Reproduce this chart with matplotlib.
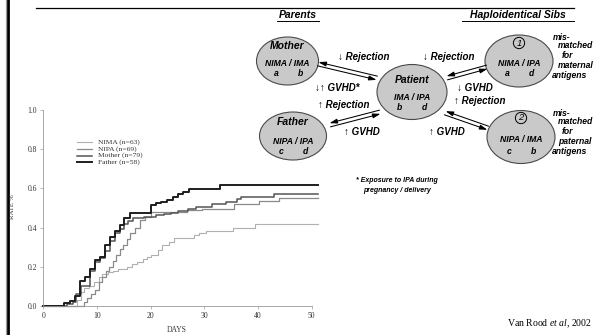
import matplotlib
matplotlib.use("Agg")
import matplotlib.pyplot as plt
from matplotlib.patches import Ellipse
import numpy as np

plt.rcParams['mathtext.fontset'] = 'custom'
plt.rcParams['mathtext.rm'] = 'Liberation Serif'
plt.rcParams['mathtext.it'] = 'Liberation Serif:italic'

# --- curve data (days, cumulative rate) ---
father_days = [0, 3.9, 5.0, 5.9, 6.9, 7.8, 8.7, 9.6, 10.6, 11.5, 12.5, 13.4, 14.3, 15.1,
               16.1, 20.1, 21.0, 22.0, 23.0, 24.2, 25.1, 26.1, 27.1, 33.0, 51.2]
father_rate = [0, 0.014, 0.025, 0.05, 0.13, 0.15, 0.19, 0.235, 0.25, 0.31, 0.35, 0.385, 0.415,
               0.45, 0.476, 0.515, 0.527, 0.533, 0.54, 0.556, 0.57, 0.58, 0.597, 0.615, 0.615]

mother_days = [0, 4.5, 5.5, 6.0, 7.0, 8.7, 9.6, 10.6, 11.5, 12.5, 13.4, 14.3, 15.0, 15.8,
               16.8, 18.7, 21.0, 22.5, 23.8, 25.0, 27.0, 28.5, 31.5, 34.0, 36.0, 36.8, 43.0, 51.2]
mother_rate = [0, 0.01, 0.02, 0.06, 0.10, 0.18, 0.225, 0.245, 0.28, 0.33, 0.37, 0.395, 0.42,
               0.435, 0.447, 0.455, 0.462, 0.47, 0.476, 0.485, 0.497, 0.505, 0.519, 0.533,
               0.546, 0.558, 0.57, 0.57]

nipa_days = [0, 7.5, 8.2, 8.9, 9.7, 10.3, 11.0, 11.6, 12.3, 13.0, 13.6, 14.2, 14.9, 15.5,
             16.2, 17.0, 18.0, 19.0, 20.0, 26.8, 29.5, 35.6, 40.2, 44.0, 51.2]
nipa_rate = [0, 0.02, 0.04, 0.06, 0.08, 0.12, 0.15, 0.18, 0.20, 0.23, 0.26, 0.29, 0.31, 0.34,
             0.37, 0.40, 0.44, 0.455, 0.48, 0.49, 0.497, 0.519, 0.536, 0.55, 0.55]

nima_days = [0, 6.2, 7.0, 7.6, 8.5, 9.5, 10.3, 11.0, 12.0, 13.0, 14.0, 15.5, 16.5, 17.5,
             18.5, 19.3, 20.1, 21.3, 22.2, 23.5, 24.4, 28.1, 29.0, 30.3, 35.3, 39.4, 51.2]
nima_rate = [0, 0.03, 0.07, 0.09, 0.10, 0.12, 0.15, 0.165, 0.175, 0.18, 0.19, 0.20, 0.215,
             0.225, 0.24, 0.25, 0.26, 0.286, 0.31, 0.325, 0.345, 0.36, 0.37, 0.383, 0.396,
             0.417, 0.417]

labels = ['NIMA (n=63)', 'NIPA (n=69)', 'Mother (n=79)', 'Father (n=58)']
x_ticks = [0, 10, 20, 30, 40, 50]
y_ticks = [0.0, 0.2, 0.4, 0.6, 0.8, 1.0]

W, H = 594, 335
fig = plt.figure(figsize=(W / 100, H / 100), dpi=100)

# chart axes placed in pixel terms
px_day = (311.7 - 43.3) / 50
ax = fig.add_axes([43.3 / W, (H - 306) / H, px_day * 51.5 / W, 196 / H])
ax.set_xlim(0, 51.5)
ax.set_ylim(0, 1.0)

series = [(nima_days, nima_rate, '#b0b0b0', 0.8),
          (nipa_days, nipa_rate, '#8a8a8a', 0.9),
          (mother_days, mother_rate, '#555555', 1.1),
          (father_days, father_rate, '#1e1e1e', 1.4)]
for (d, r, c, lw) in series:
    ax.step(d, r, where='post', color=c, lw=lw, clip_on=False)

for s in ['top', 'right']:
    ax.spines[s].set_visible(False)
ax.spines['bottom'].set_bounds(0, 50)
for s in ['left', 'bottom']:
    ax.spines[s].set_color('#999999')
    ax.spines[s].set_linewidth(0.6)
ax.set_xticks(x_ticks)
ax.set_yticks(y_ticks)
ax.set_xticklabels([str(t) for t in x_ticks])
ax.set_yticklabels(['%.1f' % t for t in y_ticks])
ax.tick_params(length=2, width=0.5, color='#999999', pad=2.5, labelsize=5.5, labelcolor='#333333')
for lab in ax.get_xticklabels() + ax.get_yticklabels():
    lab.set_family('Liberation Serif')
ax.patch.set_alpha(0)

# overlay in pixel coordinates
ov = fig.add_axes([0, 0, 1, 1])
ov.set_xlim(0, W)
ov.set_ylim(H, 0)
ov.axis('off')
ov.patch.set_alpha(0)

serif = 'Liberation Serif'
ov.text(12.5, 207, 'RATE %', rotation=90, ha='center', va='center', fontsize=5,
        family=serif, color='#333333')
ov.text(177, 334, 'DAYS', ha='center', va='bottom', fontsize=5.5, family=serif, color='#333333')

# legend
for i, (lab, (d, r, c, lw)) in enumerate(zip(labels, series)):
    y = 142 + i * 6.8
    ov.plot([77, 92], [y, y], color=c, lw=lw)
    ov.text(98, y, lab, va='center', ha='left', fontsize=5.4, family=serif, color='#333333')

# slide frame lines
ov.plot([8, 8], [0, H], color='black', lw=2.0)
ov.plot([5.8, 5.8], [0, H], color='#999999', lw=0.8)
ov.plot([36, 574], [7.5, 7.5], color='black', lw=0.9)

ov.text(592, 324, r'Van Rood $\it{et\ al}$, 2002', ha='right', va='center', fontsize=7,
        family=serif)

# diagram
sans = ['Liberation Sans', 'DejaVu Sans']
ell = [(287.5, 61, 62, 48), (293, 136, 67, 48), (412, 92, 70, 55),
       (519, 61, 68, 52), (521, 137, 68, 53)]
for (cx, cy, w, h) in ell:
    ov.add_patch(Ellipse((cx, cy), w, h, fc='#c9c9c9', ec='#4a4a4a', lw=0.8))

def bt(x, y, s, size=6.2, ha='center'):
    ov.text(x, y, s, ha=ha, va='center', fontsize=size, family=sans,
            fontweight='bold', fontstyle='italic')

bt(298, 15, 'Parents', 7.5)
ov.plot([277, 319], [21, 21], color='black', lw=0.7)
bt(518, 15, 'Haploidentical Sibs', 7.5)
ov.plot([462, 574], [21, 21], color='black', lw=0.7)

bt(287, 46, 'Mother', 7.5)
bt(287, 63, 'NIMA / IMA', 6.2)
bt(276, 73, 'a', 6.2); bt(300, 73, 'b', 6.2)
bt(293, 122, 'Father', 7.5)
bt(293, 141, 'NIPA / IPA', 6.2)
bt(281, 152, 'c', 6.2); bt(305, 152, 'd', 6.2)
bt(412, 80, 'Patient', 7.5)
bt(412, 97, 'IMA / IPA', 6.2)
bt(399, 107, 'b', 6.2); bt(424, 107, 'd', 6.2)
for (cx, cy, n) in [(519, 43, '1'), (521, 118, '2')]:
    ov.text(cx, cy, n, ha='center', va='center', fontsize=6.8, family=sans, fontstyle='italic',
            bbox=dict(boxstyle='circle,pad=0.12', fc='none', ec='black', lw=0.7))
bt(519, 63, 'NIMA / IPA', 6.2)
bt(507, 74, 'a', 6.2); bt(531, 74, 'd', 6.2)
bt(521, 140, 'NIPA / IMA', 6.2)
bt(509, 151, 'c', 6.2); bt(533, 151, 'b', 6.2)

for y0, word in [(37, 'maternal'), (113, 'paternal')]:
    bt(553, y0, 'mis-', 6.2, 'left')
    bt(558, y0 + 9, 'matched', 6.2, 'left')
    bt(562, y0 + 19, 'for', 6.2, 'left')
    bt(558, y0 + 29, word, 6.2, 'left')
    bt(552, y0 + 39, 'antigens', 6.2, 'left')

bt(338, 57, '\u2193 Rejection', 7, 'left')
bt(423, 57, '\u2193 Rejection', 7, 'left')
bt(315, 88, '\u2193\u2191 GVHD*', 7, 'left')
bt(318, 105, '\u2191 Rejection', 7, 'left')
bt(344, 132, '\u2191 GVHD', 7, 'left')
bt(457, 88, '\u2193 GVHD', 7, 'left')
bt(454, 101, '\u2191 Rejection', 7, 'left')
bt(429, 132, '\u2191 GVHD', 7, 'left')
bt(397, 180, '* Exposure to IPA during', 5)
bt(397, 190, 'pregnancy / delivery', 5)

def double_arrow(p0, p1, off=1.9):
    p0 = np.array(p0, float); p1 = np.array(p1, float)
    v = p1 - p0
    n = np.array([-v[1], v[0]]) / np.hypot(*v) * off
    kw = dict(arrowstyle='-|>,head_length=0.45,head_width=0.14', color='black', lw=0.75,
              shrinkA=0, shrinkB=0)
    ov.annotate('', xy=tuple(p1 + n), xytext=tuple(p0 + n), arrowprops=kw)
    ov.annotate('', xy=tuple(p0 - n), xytext=tuple(p1 - n), arrowprops=kw)

double_arrow((318, 64), (377, 78))
double_arrow((330, 125), (380, 112))
double_arrow((447, 78), (487, 67))
double_arrow((445, 113), (488, 128))

fig.savefig('out.png', dpi=100)
